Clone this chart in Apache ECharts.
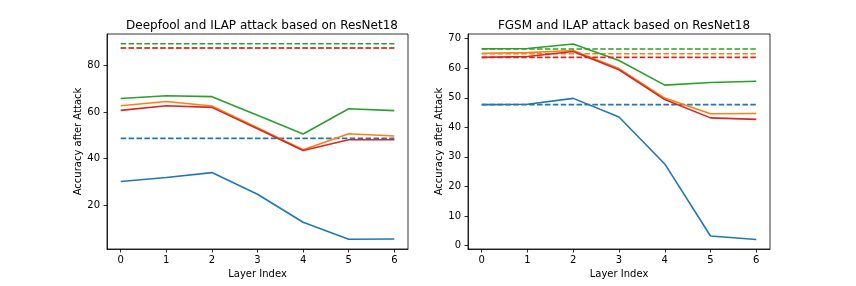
<!DOCTYPE html>
<html>
<head>
<meta charset="utf-8">
<script src="https://cdn.jsdelivr.net/npm/echarts@6/dist/echarts.min.js"></script>
<style>
html,body{margin:0;padding:0;background:#fff;}
#chart{width:856px;height:286px;}
</style>
</head>
<body>
<div id="chart"></div>
<script>
// ---- Data ----
const layers = [0, 1, 2, 3, 4, 5, 6];
const xTicks = [0, 1, 2, 3, 4, 5, 6];
const leftYTicks = [20, 40, 60, 80];
const rightYTicks = [0, 10, 20, 30, 40, 50, 60, 70];

const leftTitle = 'Deepfool and ILAP attack based on ResNet18';
const rightTitle = 'FGSM and ILAP attack based on ResNet18';
const xName = 'Layer Index';
const yName = 'Accuracy after Attack';

// Deepfool + ILAP (left)
const dfBlue   = [30.2, 31.9, 34.0, 24.7, 12.7, 5.4, 5.5];
const dfOrange = [62.7, 64.5, 62.6, 53.3, 43.8, 50.7, 49.7];
const dfGreen  = [65.8, 67.0, 66.6, 58.6, 50.6, 61.4, 60.6];
const dfRed    = [60.7, 62.7, 62.0, 52.8, 43.5, 48.1, 48.1];
const dfBaseBlue = 48.7, dfBaseOrange = 87.5, dfBaseGreen = 89.3, dfBaseRed = 87.5;

// FGSM + ILAP (right)
const fgBlue   = [47.7, 47.8, 49.8, 43.5, 27.6, 3.2, 2.0];
const fgOrange = [65.1, 65.3, 66.0, 59.9, 49.9, 44.6, 44.7];
const fgGreen  = [66.6, 66.7, 68.2, 62.6, 54.3, 55.2, 55.6];
const fgRed    = [63.7, 64.0, 65.7, 59.5, 49.4, 43.2, 42.7];
const fgBaseBlue = 47.7, fgBaseOrange = 64.9, fgBaseGreen = 66.5, fgBaseRed = 63.7;

// ---- Styling ----
const C = {blue:'#1f77b4', orange:'#ff7f0e', green:'#2ca02c', red:'#d62728'};
const FONT = 'DejaVu Sans';

function solid(name, data, color, idx) {
  return {type:'line', name, xAxisIndex:idx, yAxisIndex:idx,
    data: layers.map((x,i)=>[x, data[i]]), symbol:'none', silent:true,
    lineStyle:{color, width:1.6}, itemStyle:{color}, animation:false};
}
function dashed(name, v, color, idx) {
  return {type:'line', name, xAxisIndex:idx, yAxisIndex:idx,
    data: [[layers[0], v], [layers[layers.length-1], v]], symbol:'none', silent:true,
    lineStyle:{color, width:1.6, type:[5.5, 2.4]}, itemStyle:{color}, animation:false};
}
function xAxis(idx) {
  return {type:'value', gridIndex:idx, min:-0.3, max:6.3,
    name:xName, nameLocation:'middle', nameGap:19,
    nameTextStyle:{fontFamily:FONT, fontSize:10, color:'#000'},
    axisLine:{show:true, onZero:false, lineStyle:{color:'#000', width:0.8}}, splitLine:{show:false},
    axisTick:{show:true, inside:false, length:3.5, customValues:xTicks, lineStyle:{color:'#000', width:0.8}},
    axisLabel:{show:true, margin:6, customValues:xTicks, fontFamily:FONT, fontSize:10, color:'#000'}};
}
function yAxis(idx, min, max, ticks) {
  return {type:'value', gridIndex:idx, min, max,
    name:yName, nameLocation:'middle', nameGap:23,
    nameTextStyle:{fontFamily:FONT, fontSize:10, color:'#000'},
    axisLine:{show:true, onZero:false, lineStyle:{color:'#000', width:0.8}}, splitLine:{show:false},
    axisTick:{show:true, inside:false, length:3.5, customValues:ticks, lineStyle:{color:'#000', width:0.8}},
    axisLabel:{show:true, margin:7, customValues:ticks, fontFamily:FONT, fontSize:10, color:'#000'}};
}

const option = {
  backgroundColor:'#fff',
  animation:false,
  title:[
    {text:leftTitle, left:257, top:15, textAlign:'center',
     textStyle:{fontFamily:FONT, fontSize:12, fontWeight:'normal', color:'#000'}},
    {text:rightTitle, left:619, top:15, textAlign:'center',
     textStyle:{fontFamily:FONT, fontSize:12, fontWeight:'normal', color:'#000'}}
  ],
  grid:[
    {left:107, top:34, width:301, height:215, show:true, borderColor:'#000', borderWidth:0.8, backgroundColor:'transparent'},
    {left:468, top:34, width:302, height:215, show:true, borderColor:'#000', borderWidth:0.8, backgroundColor:'transparent'}
  ],
  xAxis:[xAxis(0), xAxis(1)],
  yAxis:[yAxis(0, 1.2, 93.5, leftYTicks), yAxis(1, -1.2, 71.6, rightYTicks)],
  series:[
    solid('df-blue', dfBlue, C.blue, 0), dashed('df-blue-base', dfBaseBlue, C.blue, 0),
    solid('df-orange', dfOrange, C.orange, 0), dashed('df-orange-base', dfBaseOrange, C.orange, 0),
    solid('df-green', dfGreen, C.green, 0), dashed('df-green-base', dfBaseGreen, C.green, 0),
    solid('df-red', dfRed, C.red, 0), dashed('df-red-base', dfBaseRed, C.red, 0),
    solid('fg-blue', fgBlue, C.blue, 1), dashed('fg-blue-base', fgBaseBlue, C.blue, 1),
    solid('fg-orange', fgOrange, C.orange, 1), dashed('fg-orange-base', fgBaseOrange, C.orange, 1),
    solid('fg-green', fgGreen, C.green, 1), dashed('fg-green-base', fgBaseGreen, C.green, 1),
    solid('fg-red', fgRed, C.red, 1), dashed('fg-red-base', fgBaseRed, C.red, 1)
  ]
};
const chart = echarts.init(document.getElementById('chart'), null, {renderer:'canvas'});
chart.setOption(option);
</script>
</body>
</html>
